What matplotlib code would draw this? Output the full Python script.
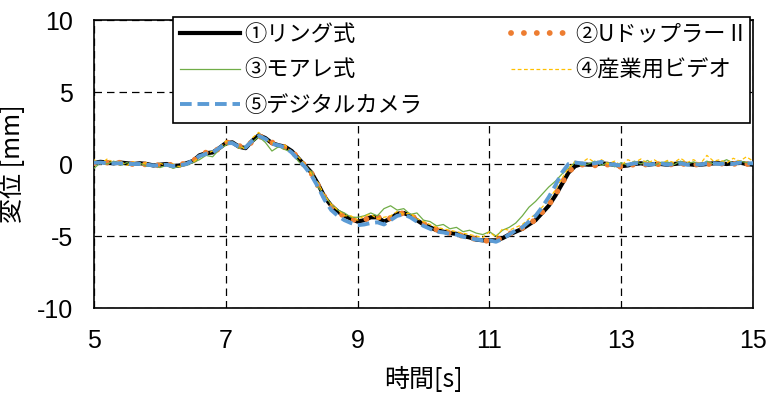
import numpy as np
import matplotlib
matplotlib.use("Agg")
import matplotlib.pyplot as plt

plt.rcParams['font.family'] = ['Liberation Sans', 'Noto Sans CJK JP', 'DejaVu Sans']
plt.rcParams['axes.unicode_minus'] = False

# time axis [s], 0.1 s step
t = np.round(np.arange(5.0, 15.01, 0.1), 2)

# ① ring
ring = [0.1, 0.15, 0.1, 0.05, 0.1, 0.05, 0.0, 0.05, 0.0, -0.1,
        -0.05, 0.0, -0.15, -0.1, 0.05, 0.2, 0.6, 0.75, 0.8, 1.1,
        1.45, 1.5, 1.2, 1.1, 1.6, 2.0, 1.8, 1.45, 1.3, 1.2,
        0.9, 0.4, -0.1, -0.6, -1.4, -2.3, -2.9, -3.3, -3.6, -3.8,
        -4.0, -3.9, -3.7, -3.7, -4.0, -3.8, -3.45, -3.4, -3.6, -3.9,
        -4.2, -4.4, -4.6, -4.7, -4.8, -4.85, -5.0, -5.1, -5.25, -5.3,
        -5.3, -5.3, -5.15, -4.9, -4.7, -4.5, -4.2, -3.9, -3.4, -2.9,
        -2.2, -1.4, -0.6, -0.15, 0.0, -0.05, -0.05, 0.05, 0.0, -0.05,
        -0.15, -0.1, 0.0, 0.05, -0.05, 0.0, 0.0, -0.05, 0.0, 0.05,
        0.0, -0.05, -0.05, 0.0, 0.05, 0.05, 0.0, 0.05, 0.1, 0.0,
        -0.05]

# ② U doppler II
doppler = [0.05, 0.1, 0.1, 0.0, 0.1, 0.0, 0.0, 0.05, -0.05, -0.05,
           -0.1, 0.0, -0.1, -0.1, 0.1, 0.2, 0.55, 0.8, 0.75, 1.1,
           1.5, 1.45, 1.25, 1.15, 1.55, 1.95, 1.75, 1.5, 1.3, 1.15,
           0.85, 0.45, -0.15, -0.65, -1.5, -2.3, -2.95, -3.3, -3.65, -3.8,
           -3.95, -3.85, -3.75, -3.65, -3.95, -3.75, -3.5, -3.4, -3.55, -3.85,
           -4.15, -4.4, -4.55, -4.7, -4.8, -4.9, -5.0, -5.15, -5.2, -5.3,
           -5.35, -5.3, -5.1, -4.85, -4.7, -4.45, -4.2, -3.85, -3.35, -2.85,
           -2.15, -1.35, -0.55, -0.15, -0.05, 0.0, -0.1, 0.05, -0.05, -0.1,
           -0.2, -0.05, -0.05, 0.0, -0.05, 0.05, -0.05, 0.0, -0.05, 0.05,
           -0.05, 0.0, -0.1, 0.0, 0.0, 0.05, -0.05, 0.0, 0.05, 0.0,
           0.0]

# ③ moire
moire = [-0.3, 0.1, 0.0, 0.2, -0.1, 0.1, -0.1, 0.05, -0.15, -0.05,
         -0.25, -0.1, -0.3, -0.15, -0.1, 0.1, 0.3, 0.6, 0.5, 1.0,
         1.3, 1.55, 1.1, 1.2, 1.5, 1.9, 1.5, 0.9, 1.2, 1.0,
         0.8, 0.2, -0.3, -0.5, -1.6, -2.2, -2.8, -3.2, -3.4, -3.7,
         -3.7, -3.6, -3.4, -3.6, -3.1, -2.9, -3.2, -3.1, -3.5, -3.4,
         -3.9, -4.0, -4.3, -4.2, -4.5, -4.4, -4.7, -4.6, -4.8, -4.9,
         -4.7, -5.0, -4.6, -4.4, -4.1, -3.6, -3.0, -2.6, -2.1, -1.6,
         -1.2, -0.7, -0.3, 0.1, -0.1, 0.0, 0.2, -0.1, 0.1, -0.2,
         0.1, -0.1, 0.2, 0.0, 0.25, -0.1, 0.1, 0.15, -0.05, 0.2,
         0.0, 0.15, -0.1, 0.2, 0.0, 0.1, 0.3, 0.05, 0.2, 0.1,
         0.05]

# ④ industrial video
video = [0.3, 0.0, 0.35, 0.1, 0.2, -0.1, 0.15, -0.05, 0.1, -0.2,
         0.05, -0.1, 0.0, -0.2, 0.15, 0.1, 0.5, 0.7, 0.9, 1.0,
         1.6, 1.4, 1.3, 1.0, 1.8, 2.2, 1.7, 1.5, 1.3, 1.3,
         0.8, 0.5, 0.0, -0.7, -1.3, -2.2, -2.8, -3.2, -3.6, -3.6,
         -3.9, -3.6, -3.5, -3.8, -3.7, -3.6, -3.3, -3.5, -3.4, -3.8,
         -4.0, -4.2, -4.4, -4.5, -4.6, -4.7, -4.8, -4.9, -5.0, -5.1,
         -4.7, -5.1, -4.5, -4.6, -4.4, -4.2, -3.8, -3.5, -3.0, -2.5,
         -1.8, -1.0, -0.3, 0.2, 0.1, 0.4, 0.1, 0.3, 0.0, 0.2,
         -0.1, 0.3, 0.1, 0.35, 0.05, 0.3, 0.0, 0.25, 0.1, 0.4,
         0.1, 0.3, 0.0, 0.6, 0.2, 0.3, 0.05, 0.4, 0.2, 0.5,
         0.2]

# ⑤ digital camera
camera = [0.1, 0.1, 0.05, 0.05, 0.05, 0.0, 0.0, 0.0, -0.05, -0.1,
          -0.1, -0.05, -0.15, -0.1, 0.0, 0.25, 0.55, 0.7, 0.8, 1.1,
          1.45, 1.45, 1.2, 1.15, 1.6, 1.95, 1.75, 1.4, 1.3, 1.15,
          0.8, 0.3, -0.2, -0.8, -1.6, -2.5, -3.2, -3.6, -3.9, -4.1,
          -4.25, -4.2, -4.1, -4.05, -4.2, -3.9, -3.6, -3.5, -3.7, -4.0,
          -4.3, -4.5, -4.7, -4.75, -4.85, -4.9, -5.05, -5.15, -5.25, -5.3,
          -5.3, -5.4, -5.2, -4.9, -4.6, -4.4, -4.0, -3.6, -3.0, -2.3,
          -1.5, -0.6, 0.0, 0.1, 0.05, 0.0, 0.05, 0.15, 0.0, -0.05,
          -0.1, -0.05, 0.05, 0.05, -0.05, 0.0, 0.05, -0.05, 0.0, 0.05,
          -0.05, 0.0, -0.05, 0.05, 0.05, 0.0, 0.05, 0.0, 0.1, 0.05,
          0.05]

labels = ['①リング式', '②Uドップラー II', '③モアレ式', '④産業用ビデオ', '⑤デジタルカメラ']

jp = ['Noto Sans CJK JP', 'Liberation Sans']

fig = plt.figure(figsize=(7.82, 3.99), dpi=100)
ax = fig.add_axes([94/782, 1-308/399, 659/782, 288/399])

l1, = ax.plot(t, ring, color='black', lw=3.0, label=labels[0], zorder=3)
l2, = ax.plot(t, doppler, color='#ED7D31', lw=4.2, linestyle=(0, (0.01, 2.2)),
              dash_capstyle='round', label=labels[1], zorder=4)
l3, = ax.plot(t, moire, color='#70AD47', lw=0.9, label=labels[2], zorder=5)
l4, = ax.plot(t, video, color='#FFC000', lw=0.9, linestyle=(0, (3, 2)), label=labels[3], zorder=5)
l5, = ax.plot(t, camera, color='#5B9BD5', lw=2.8, linestyle=(0, (3, 1.5)), label=labels[4], zorder=6)

ax.set_xlim(5, 15)
ax.set_ylim(-10, 10)
ax.set_xticks([5, 7, 9, 11, 13, 15])
ax.set_yticks([-10, -5, 0, 5, 10])
ax.tick_params(length=0, labelsize=18, pad=15)
ax.grid(True, color='black', linestyle=(0, (6, 4)), linewidth=0.9)
for s in ax.spines.values():
    s.set_linewidth(1.2)

ax.set_xlabel('時間[s]', fontsize=18, family=jp, labelpad=10)
ax.set_ylabel('変位 [mm]', fontsize=18, family=jp, labelpad=8)

leg = ax.legend(handles=[l1, l3, l5, l2, l4], ncol=2, loc='upper left',
                bbox_to_anchor=(0.12, 0.66, 0.875, 0.352), mode='expand',
                borderaxespad=0, fancybox=False, framealpha=1,
                edgecolor='black', handlelength=2.7, labelspacing=0.55,
                borderpad=0.3, handletextpad=0.2,
                prop={'family': jp, 'size': 16})
leg.get_frame().set_linewidth(1.2)
leg.set_zorder(10)

fig.savefig('out.png', dpi=100)
